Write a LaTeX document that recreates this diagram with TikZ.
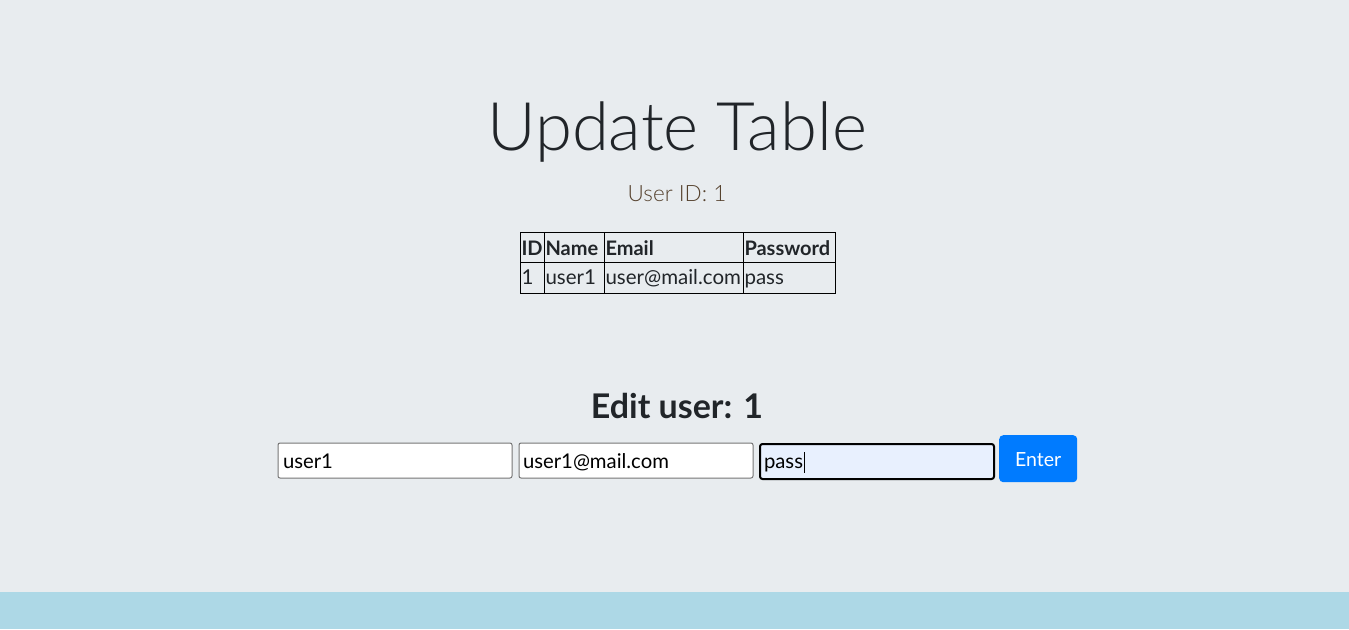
\documentclass[tikz,border=0pt]{standalone}
\usepackage{fontspec}
\usetikzlibrary{calc}
\setmainfont{Lato}
\newfontfamily\lightfont{Lato Light}
\definecolor{bg}{RGB}{232,236,239}
\definecolor{bar}{RGB}{173,216,230}
\definecolor{ink}{RGB}{33,37,41}
\definecolor{leadc}{RGB}{85,65,45}
\definecolor{autofill}{RGB}{232,240,254}
\definecolor{btn}{RGB}{0,123,255}
\definecolor{inborder}{RGB}{118,118,118}
\tikzset{
  txt/.style={inner sep=0pt, outer sep=0pt, text=ink},
  cell/.style={draw=black, line width=1pt, inner sep=0pt},
  cellt/.style={txt, anchor=base west, font=\fontsize{20.5}{22}\selectfont},
  cellh/.style={cellt, font=\fontsize{20}{22}\selectfont\bfseries},
  inbox/.style={draw=inborder, line width=1pt, fill=white, rounded corners=2pt, inner sep=0pt},
  intxt/.style={txt, anchor=base west, font=\fontsize{20.3}{22}\selectfont, text=black},
}
\begin{document}
\begin{tikzpicture}[x=1pt,y=-1pt]
\useasboundingbox (0,0) rectangle (1349,629);
\fill[bg] (0,0) rectangle (1349,629);
\fill[bar] (0,592) rectangle (1349,629);

\node[txt, anchor=base, font=\lightfont\fontsize{67}{76}\selectfont] (title) at (677,150) {Update Table};
\node[txt, anchor=base, text=leadc, font=\lightfont\fontsize{22.5}{25}\selectfont] (uid) at (677,201) {User ID: 1};

% table
\node[cell, minimum width=24, minimum height=30.5, anchor=north west] (h1) at (519.5,231.5) {};
\node[cell, minimum width=60, minimum height=30.5, anchor=north west] (h2) at (543.5,231.5) {};
\node[cell, minimum width=139, minimum height=30.5, anchor=north west] (h3) at (603.5,231.5) {};
\node[cell, minimum width=92, minimum height=30.5, anchor=north west] (h4) at (742.5,231.5) {};
\node[cell, minimum width=24, minimum height=30.5, anchor=north west] (r1) at (519.5,262) {};
\node[cell, minimum width=60, minimum height=30.5, anchor=north west] (r2) at (543.5,262) {};
\node[cell, minimum width=139, minimum height=30.5, anchor=north west] (r3) at (603.5,262) {};
\node[cell, minimum width=92, minimum height=30.5, anchor=north west] (r4) at (742.5,262) {};
\node[cellh] (th1) at (521.5,255) {ID};
\node[cellh] (th2) at (545.5,255) {Name};
\node[cellh] (th3) at (605.5,255) {Email};
\node[cellh] (th4) at (744.5,255) {Password};
\node[cellt] (td1) at (521.5,284.5) {1};
\node[cellt] (td2) at (545.5,284.5) {user1};
\node[cellt] (td3) at (605.5,284.5) {user@mail.com};
\node[cellt] (td4) at (744.5,284.5) {pass};

\node[txt, anchor=base, font=\fontsize{34}{37}\selectfont\bfseries] (edit) at (677,418) {Edit user: 1};

% inputs
\node[inbox, minimum width=234, minimum height=35, anchor=north west] (in1) at (277.5,442.5) {};
\node[inbox, minimum width=234, minimum height=35, anchor=north west] (in2) at (518.5,442.5) {};
\node[draw=black, line width=2pt, fill=autofill, rounded corners=2.5pt, inner sep=0pt, minimum width=234, minimum height=35, anchor=north west] (in3) at (759,443) {};
\node[intxt] (v1) at (283,468) {user1};
\node[intxt] (v2) at (523,468) {user1@mail.com};
\node[intxt] (v3) at (764,468) {pass};
\coordinate (curtop) at ($(v3.base east)+(1.5,-16)$);
\coordinate (curbot) at ($(v3.base east)+(1.5,5)$);
\draw[black, line width=1pt] (curtop) -- (curbot);

\node[fill=btn, rounded corners=4pt, inner sep=0pt, minimum width=78, minimum height=47, anchor=north west] (btn) at (999,435) {};
\node[txt, text=white, anchor=base, font=\fontsize{19.5}{22}\selectfont] (btnt) at (btn.center |- 0,466) {Enter};
\end{tikzpicture}
\end{document}
